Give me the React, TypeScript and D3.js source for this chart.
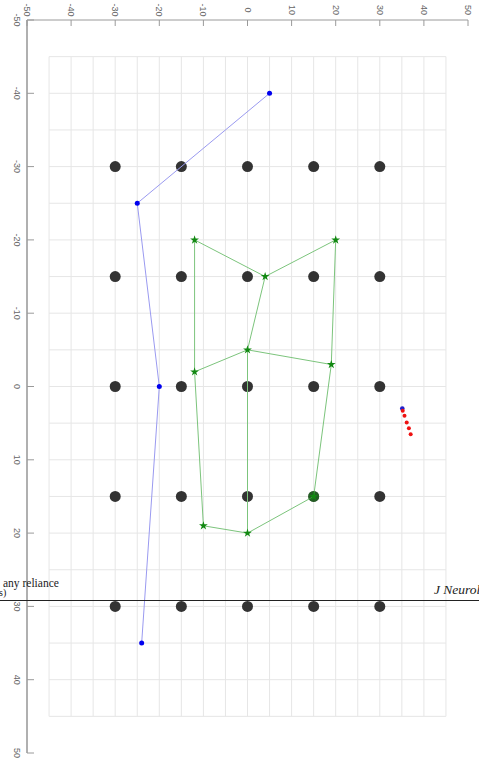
import React from "react";
import * as d3 from "d3";

const W = 479;
const H = 763;

const xTicks = [-50, -40, -30, -20, -10, 0, 10, 20, 30, 40, 50];
const yTicks = [-50, -40, -30, -20, -10, 0, 10, 20, 30, 40, 50];
const gridVals = d3.range(-45, 46, 5);

const gridX = [-30, -15, 0, 15, 30];
const gridY = [-30, -15, 0, 15, 30];

const blueX = [5, -25, -20, -24];
const blueY = [-40, -25, 0, 35];

const starX = [-12, 4, 20, 0, -12, 19, -10, 0, 15];
const starY = [-20, -15, -20, -5, -2, -3, 19, 20, 15];
const starEdges: [number, number][] = [
  [0, 1], [1, 2], [1, 3], [3, 4], [3, 5], [0, 4], [2, 5],
  [4, 6], [5, 8], [3, 7], [6, 7], [7, 8],
];

const redX = [35.2, 35.6, 36.1, 36.6, 37.0];
const redY = [3.3, 4.0, 4.9, 5.7, 6.5];
const redBlue = [35.1, 3];

export default function App() {
  const x = d3.scaleLinear().domain([-50, 50]).range([27, 468]);
  const y = d3.scaleLinear().domain([-50, 50]).range([20, 753]);
  const blueLine = d3.line<number>().x((d) => x(blueX[d])).y((d) => y(blueY[d]));
  const star = d3.symbol().type(d3.symbolStar).size(24)();
  const font = "'Liberation Sans', Arial, sans-serif";
  return (
    <svg width={W} height={H} style={{ position: "absolute", left: 0, top: 0, background: "#fff" }}>
      {/* grid */}
      {gridVals.map((v) => (
        <line key={"gx" + v} x1={x(v)} x2={x(v)} y1={y(-45)} y2={y(45)} stroke="#e6e6e6" strokeWidth={1} />
      ))}
      {gridVals.map((v) => (
        <line key={"gy" + v} y1={y(v)} y2={y(v)} x1={x(-45)} x2={x(45)} stroke="#e6e6e6" strokeWidth={1} />
      ))}
      {/* axes */}
      <line x1={x(-50)} x2={x(50)} y1={y(-50)} y2={y(-50)} stroke="#9a9a9a" strokeWidth={1} />
      <line x1={x(-50)} x2={x(-50)} y1={y(-50)} y2={y(50)} stroke="#b0b0b0" strokeWidth={2} />
      {xTicks.map((v) => (
        <g key={"xt" + v}>
          <line x1={x(v)} x2={x(v)} y1={y(-50)} y2={y(-50) + 6} stroke="#9a9a9a" />
          <text
            transform={`translate(${x(v)},${y(-50) - 10}) rotate(90)`}
            textAnchor="middle"
            dominantBaseline="central"
            fontSize={9}
            fontFamily={font}
            fill="#666"
          >
            {v}
          </text>
        </g>
      ))}
      {yTicks.map((v) => (
        <g key={"yt" + v}>
          <line x1={x(-50)} x2={x(-50) + 7} y1={y(v)} y2={y(v)} stroke="#9a9a9a" />
          <text
            transform={`translate(${x(-50) - 10},${y(v)}) rotate(90)`}
            textAnchor="middle"
            dominantBaseline="central"
            fontSize={9}
            fontFamily={font}
            fill="#666"
          >
            {v}
          </text>
        </g>
      ))}
      {/* black grid dots */}
      {gridX.map((gx) =>
        gridY.map((gy) => (
          <circle key={`d${gx}_${gy}`} cx={x(gx)} cy={y(gy)} r={5.5} fill="#333" />
        ))
      )}
      {/* green polygon */}
      {starEdges.map(([a, b], i) => (
        <line
          key={"e" + i}
          x1={x(starX[a])}
          y1={y(starY[a])}
          x2={x(starX[b])}
          y2={y(starY[b])}
          stroke="#7cc47c"
          strokeWidth={1}
        />
      ))}
      <circle cx={x(15)} cy={y(15)} r={5.5} fill="#1a7a1a" opacity={0.6} />
      {starX.map((sx, i) => (
        <path key={"s" + i} d={star || ""} transform={`translate(${x(sx)},${y(starY[i])})`} fill="#118811" />
      ))}
      {/* blue line */}
      <path d={blueLine(d3.range(blueX.length)) || ""} fill="none" stroke="#9a9af0" strokeWidth={1} />
      {blueX.map((bx, i) => (
        <circle key={"b" + i} cx={x(bx)} cy={y(blueY[i])} r={2.5} fill="#0000ee" />
      ))}
      {/* red dots */}
      <circle cx={x(redBlue[0])} cy={y(redBlue[1])} r={2.3} fill="#2020cc" />
      {redX.map((rx, i) => (
        <circle key={"r" + i} cx={x(rx)} cy={y(redY[i])} r={2} fill="#ee1111" />
      ))}
      {/* page overlay artifacts */}
      <line x1={0} x2={W} y1={600.5} y2={600.5} stroke="#222" strokeWidth={1.2} />
      <text x={3} y={587} fontSize={11.5} fontFamily="'Liberation Serif', 'Times New Roman', serif" fill="#222">
        any reliance
      </text>
      <text x={-1} y={596} fontSize={10} fontFamily="'Liberation Serif', 'Times New Roman', serif" fill="#222">
        s)
      </text>
      <text x={434} y={594} fontSize={13.5} fontStyle="italic" fontFamily="'Liberation Serif', 'Times New Roman', serif" fill="#222">
        J Neurol
      </text>
    </svg>
  );
}
